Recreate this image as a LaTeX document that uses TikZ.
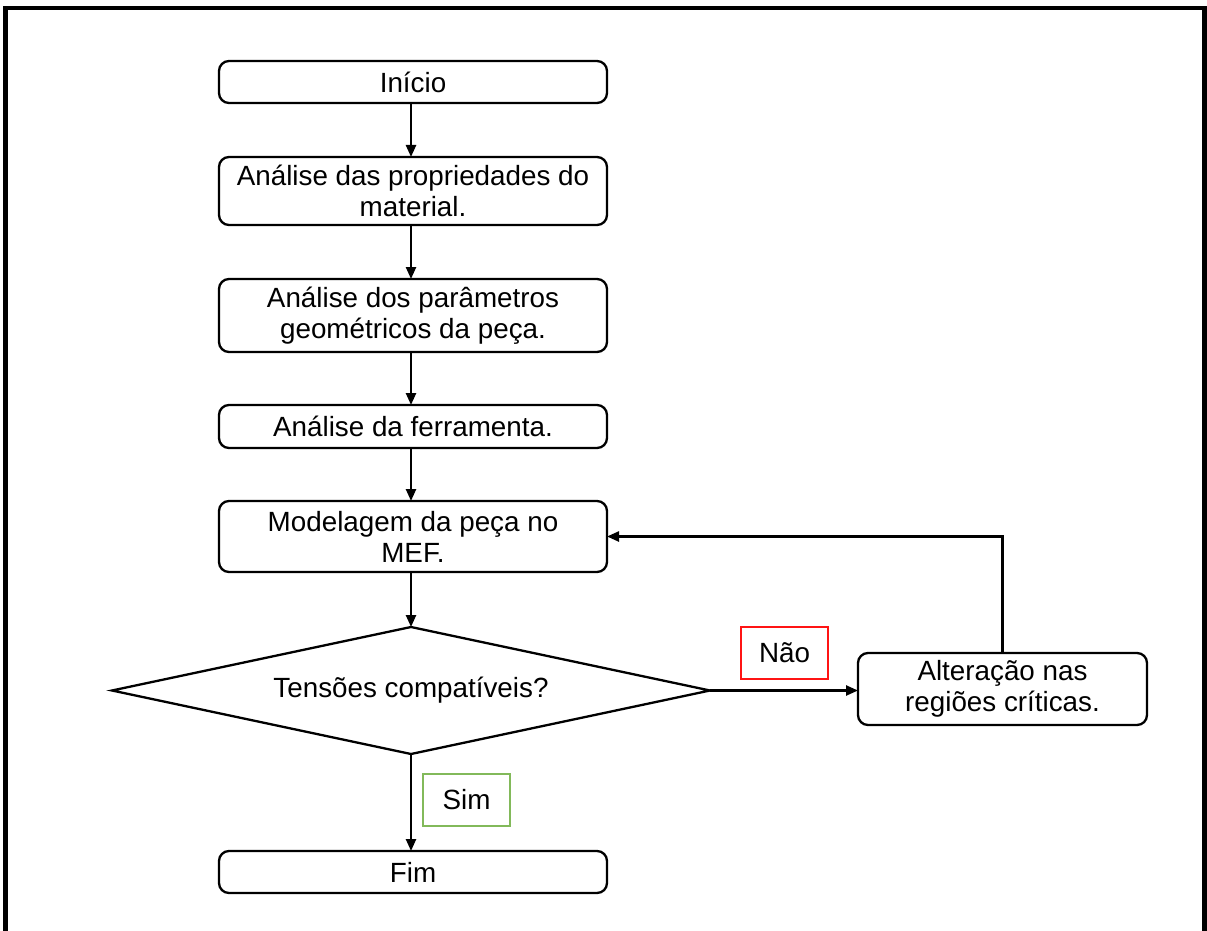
\documentclass[tikz,border=0pt]{standalone}
\usepackage{fontspec}
\setmainfont{Liberation Sans}
\usetikzlibrary{arrows.meta,shapes.geometric}
\begin{document}
\begin{tikzpicture}[x=1pt,y=-1pt,
  every node/.style={font=\fontsize{27.8}{31}\selectfont, align=center, inner sep=0pt, outer sep=0pt},
  procbox/.style={draw, line width=2.3pt, rounded corners=10pt, minimum width=388pt},
  decbox/.style={draw, line width=2.3pt, shape=diamond, minimum width=598pt, minimum height=127pt, aspect=4.7},
  tagbox/.style={draw, line width=1.7pt, minimum width=87pt, minimum height=52pt},
  conn/.style={line width=2.4pt, -{Triangle[length=12pt,width=10pt]}}
]
\useasboundingbox (0,0) rectangle (1207,931);
\fill[white] (0,0) rectangle (1207,931);
\draw[line width=4.5pt] (5.5,945) -- (5.5,8) -- (1204.5,8) -- (1204.5,945);

\node[procbox, minimum height=42pt] (ini) at (413,82) {Início};
\node[procbox, minimum height=68pt] (prop) at (413,191) {Análise das propriedades do\\material.};
\node[procbox, minimum height=73pt] (param) at (413,315.5) {Análise dos parâmetros\\geométricos da peça.};
\node[procbox, minimum height=43pt] (ferr) at (413,426.5) {Análise da ferramenta.};
\node[procbox, minimum height=71pt] (model) at (413,536.5) {Modelagem da peça no\\MEF.};
\node[decbox] (dec) at (411,690.5) {Tensões compatíveis?};
\node[procbox, minimum width=289pt, minimum height=72pt] (alt) at (1002.5,689) {Alteração nas\\regiões críticas.};
\node[tagbox, draw={rgb,255:red,255;green,20;blue,20}] (nao) at (784.5,653) {Não};
\node[tagbox, draw={rgb,255:red,130;green,185;blue,90}] (sim) at (466.5,800) {Sim};
\node[procbox, minimum height=42pt] (fim) at (413,872) {Fim};

\draw[conn] (ini.south -| dec.north) -- (prop.north -| dec.north);
\draw[conn] (prop.south -| dec.north) -- (param.north -| dec.north);
\draw[conn] (param.south -| dec.north) -- (ferr.north -| dec.north);
\draw[conn] (ferr.south -| dec.north) -- (model.north -| dec.north);
\draw[conn] (model.south -| dec.north) -- (dec.north);
\draw[conn] (dec.east) -- (alt.west |- dec.east);
\draw[conn] (alt.north) |- (model.east);
\draw[conn] (dec.south) -- (fim.north -| dec.south);
\end{tikzpicture}
\end{document}
